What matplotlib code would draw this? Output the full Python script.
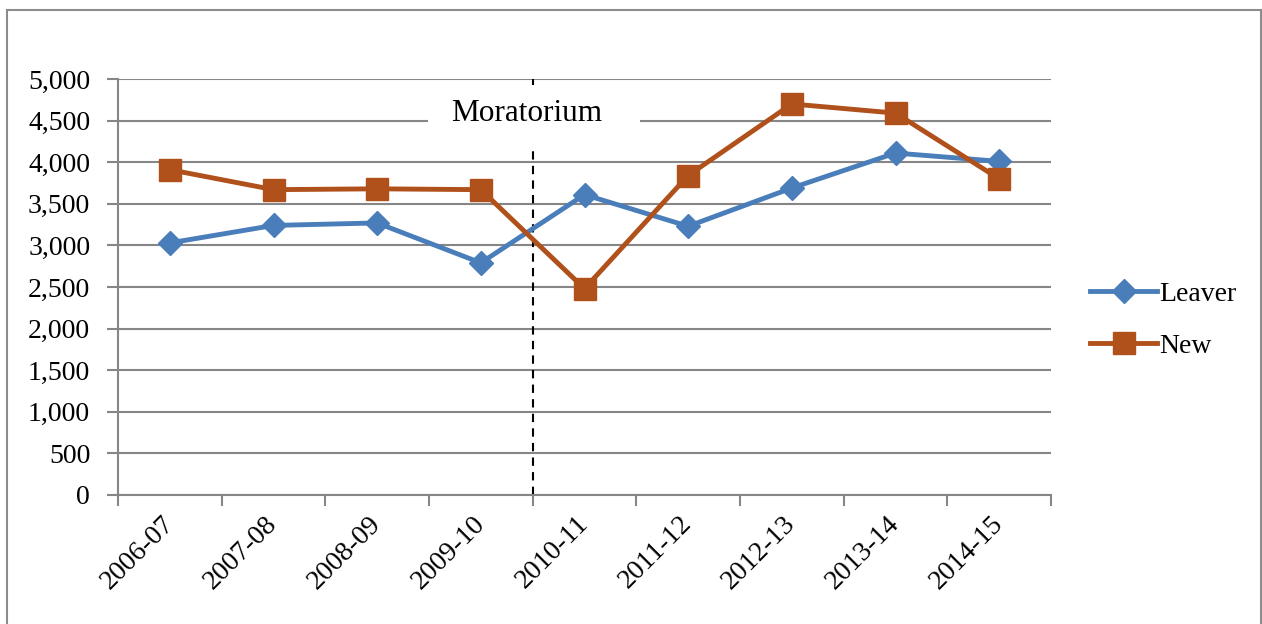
import matplotlib.pyplot as plt
import numpy as np

# data
years = ['2006-07', '2007-08', '2008-09', '2009-10', '2010-11',
         '2011-12', '2012-13', '2013-14', '2014-15']
leaver = [3030, 3240, 3270, 2790, 3610, 3230, 3690, 4110, 4010]
new = [3910, 3670, 3680, 3670, 2480, 3840, 4700, 4590, 3800]

plt.rcParams['font.family'] = ['Liberation Serif', 'DejaVu Serif']

fig = plt.figure(figsize=(12.62, 6.24), dpi=100)
ax = fig.add_axes([118 / 1262, 129 / 624, 933 / 1262, 416 / 624])

# outer chart border
fig.patches.append(plt.Rectangle((7 / 1262, -0.01), 1254 / 1262, 1 - 10 / 624 + 0.01,
                                 transform=fig.transFigure, fill=False,
                                 edgecolor='#8c8c8c', linewidth=1.5))

x = np.arange(len(years))
ax.plot(x, leaver, color='#4A7EBB', linewidth=3.5, marker='D', markersize=12.5,
        label='Leaver', zorder=3)
ax.plot(x, new, color='#B0501A', linewidth=3.5, marker='s', markersize=15.5,
        label='New', zorder=3)

ax.set_xlim(-0.5, len(years) - 0.5)
ax.set_ylim(0, 5000)
ax.set_yticks(np.arange(0, 5001, 500))
ax.set_yticklabels([f'{v:,}' for v in range(0, 5001, 500)], fontsize=20)
ax.set_xticks(x)
ax.set_xticklabels(years, fontsize=20, rotation=45, ha='right', va='center',
                   rotation_mode='anchor')
ax.set_xticks(np.arange(-0.5, len(years)), minor=True)
ax.tick_params(axis='x', which='major', length=0, pad=18)
ax.tick_params(axis='x', which='minor', length=8, width=1.5, color='#868686')
ax.tick_params(axis='y', length=8, width=1.5, color='#868686', pad=12)

ax.grid(axis='y', color='#868686', linewidth=1.5)
ax.set_axisbelow(True)
for s in ['top', 'right']:
    ax.spines[s].set_visible(False)
for s in ['left', 'bottom']:
    ax.spines[s].set_color('#868686')
    ax.spines[s].set_linewidth(1.5)

# moratorium marker
ax.axvline(3.5, color='black', linestyle='--', linewidth=1.5, dashes=(4, 3), zorder=2)
ax.add_patch(plt.Rectangle((2.49, 4207), 2.045, 721, facecolor='white',
                           edgecolor='none', zorder=2.5))
ax.text(3.445, 4580, 'Moratorium', fontsize=22.5, ha='center', va='center', zorder=4)

leg = ax.legend(loc='center left', bbox_to_anchor=(1.042, 0.42), frameon=False,
                fontsize=20, handlelength=2.4, handletextpad=0.1, labelspacing=0.95,
                borderaxespad=0, borderpad=0)

fig.savefig('out.png', dpi=100)
